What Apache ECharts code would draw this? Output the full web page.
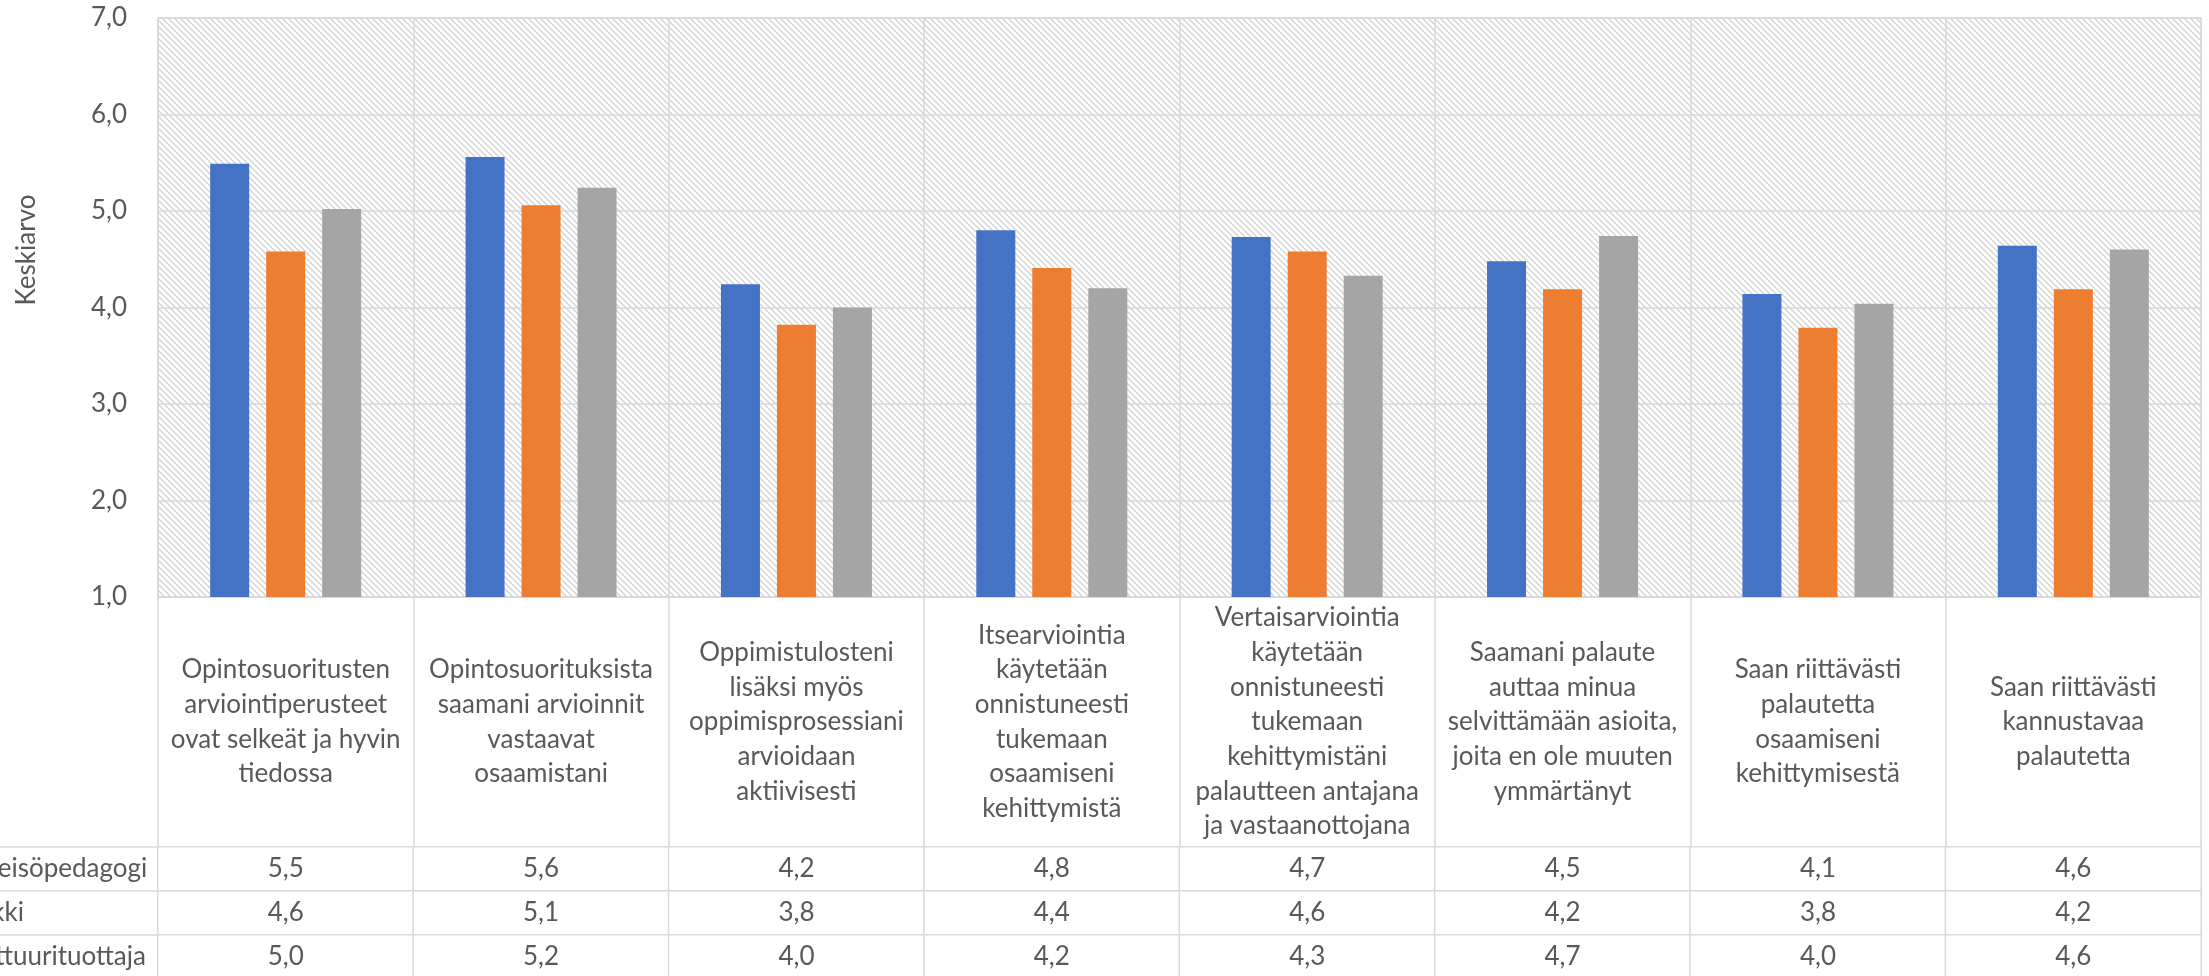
<!DOCTYPE html>
<html><head><meta charset="utf-8">
<script src="https://cdn.jsdelivr.net/npm/echarts@6/dist/echarts.min.js"></script>
<style>html,body{margin:0;padding:0;background:#fff;overflow:hidden}#c{width:2209px;height:976px}</style>
</head><body><div id="c"></div>
<script>
const categories = [
  'Opintosuoritusten\narviointiperusteet\novat selkeät ja hyvin\ntiedossa',
  'Opintosuorituksista\nsaamani arvioinnit\nvastaavat\nosaamistani',
  'Oppimistulosteni\nlisäksi myös\noppimisprosessiani\narvioidaan\naktiivisesti',
  'Itsearviointia\nkäytetään\nonnistuneesti\ntukemaan\nosaamiseni\nkehittymistä',
  'Vertaisarviointia\nkäytetään\nonnistuneesti\ntukemaan\nkehittymistäni\npalautteen antajana\nja vastaanottojana',
  'Saamani palaute\nauttaa minua\nselvittämään asioita,\njoita en ole muuten\nymmärtänyt',
  'Saan riittävästi\npalautetta\nosaamiseni\nkehittymisestä',
  'Saan riittävästi\nkannustavaa\npalautetta'
];
const seriesNames = ['Yhteisöpedagogi', 'Tulkki', 'Kulttuurituottaja'];
const yhteisopedagogi = [5.49, 5.56, 4.24, 4.80, 4.73, 4.48, 4.14, 4.64];
const tulkki = [4.58, 5.06, 3.82, 4.41, 4.58, 4.19, 3.79, 4.19];
const kulttuurituottaja = [5.02, 5.24, 4.00, 4.20, 4.33, 4.74, 4.04, 4.60];
const yAxisTitle = 'Keskiarvo';
const colors = ['#4472C4', '#ED7D31', '#A5A5A5'];

const seriesValues = [yhteisopedagogi, tulkki, kulttuurituottaja];
const fmt = v => v.toFixed(1).replace('.', ',');
const FONT = 'Lato, "Open Sans", sans-serif';
const TXT = '#595959';
const LINE = '#D9D9D9';

// hatch pattern for plot background
const p = 6;
const cv = document.createElement('canvas');
cv.width = p; cv.height = p;
const cx = cv.getContext('2d');
cx.fillStyle = '#ffffff'; cx.fillRect(0, 0, p, p);
cx.strokeStyle = '#d2d2d2'; cx.lineWidth = 1.3;
cx.beginPath();
cx.moveTo(-1, -1); cx.lineTo(p + 1, p + 1);
cx.moveTo(-1, p - 1); cx.lineTo(1, p + 1);
cx.moveTo(p - 1, -1); cx.lineTo(p + 1, 1);
cx.stroke();

const tableData = [];
seriesValues.forEach((arr, j) => arr.forEach((v, i) => tableData.push([i, j, v])));

const chart = echarts.init(document.getElementById('c'), null, {renderer: 'canvas'});
chart.setOption({
  animation: false,
  textStyle: {fontFamily: FONT},
  grid: [
    {left: 158, right: 8, top: 18, bottom: 379, show: true, outerBoundsMode: 'none', containLabel: false,
     backgroundColor: {image: cv, repeat: 'repeat'}, borderColor: LINE, borderWidth: 1.5},
    {left: 158, right: 8, top: 847, height: 132, show: false, outerBoundsMode: 'none', containLabel: false}
  ],
  xAxis: [
    {type: 'category', gridIndex: 0, data: categories,
     axisLine: {show: true, lineStyle: {color: LINE, width: 1.5}},
     axisTick: {show: true, length: 385, lineStyle: {color: LINE, width: 1.5}},
     splitLine: {show: true, lineStyle: {color: LINE, width: 1.5}},
     axisLabel: {interval: 0, margin: 125, verticalAlign: 'middle', align: 'center',
       fontSize: 26, lineHeight: 34.7, color: TXT, fontFamily: FONT}},
    {type: 'category', gridIndex: 1, data: categories,
     axisLine: {show: false}, axisTick: {show: false}, axisLabel: {show: false}, splitLine: {show: false}}
  ],
  yAxis: [
    {type: 'value', gridIndex: 0, min: 1, max: 7, interval: 1,
     axisLine: {show: true, lineStyle: {color: LINE, width: 1.5}},
     axisTick: {show: false},
     splitLine: {show: true, lineStyle: {color: LINE, width: 1.5}},
     axisLabel: {formatter: v => fmt(v), margin: 31, fontSize: 26, color: TXT, fontFamily: FONT}},
    {type: 'category', gridIndex: 1, data: seriesNames, inverse: true,
     axisLine: {show: false},
     axisTick: {show: true, length: 162, lineStyle: {color: LINE, width: 1.5}},
     splitLine: {show: false},
     axisLabel: {align: 'left', margin: 200, fontSize: 26, color: TXT, fontFamily: FONT}}
  ],
  graphic: [
    {type: 'text', x: 27, y: 250, rotation: Math.PI / 2,
     style: {text: yAxisTitle, fontSize: 26, fill: TXT, fontFamily: FONT, align: 'center', verticalAlign: 'middle'}}
  ],
  series: [
    ...seriesValues.map((arr, k) => ({
      type: 'bar', name: seriesNames[k], xAxisIndex: 0, yAxisIndex: 0,
      data: arr, barWidth: 39, barGap: '43.6%',
      itemStyle: {color: colors[k]}, emphasis: {disabled: true}
    })),
    {type: 'heatmap', xAxisIndex: 1, yAxisIndex: 1, data: tableData,
     itemStyle: {color: '#ffffff', borderColor: LINE, borderWidth: 1.5},
     label: {show: true, formatter: pr => fmt(pr.value[2]), fontSize: 26, color: TXT, fontFamily: FONT},
     emphasis: {disabled: true}}
  ]
});
</script>
</body></html>
